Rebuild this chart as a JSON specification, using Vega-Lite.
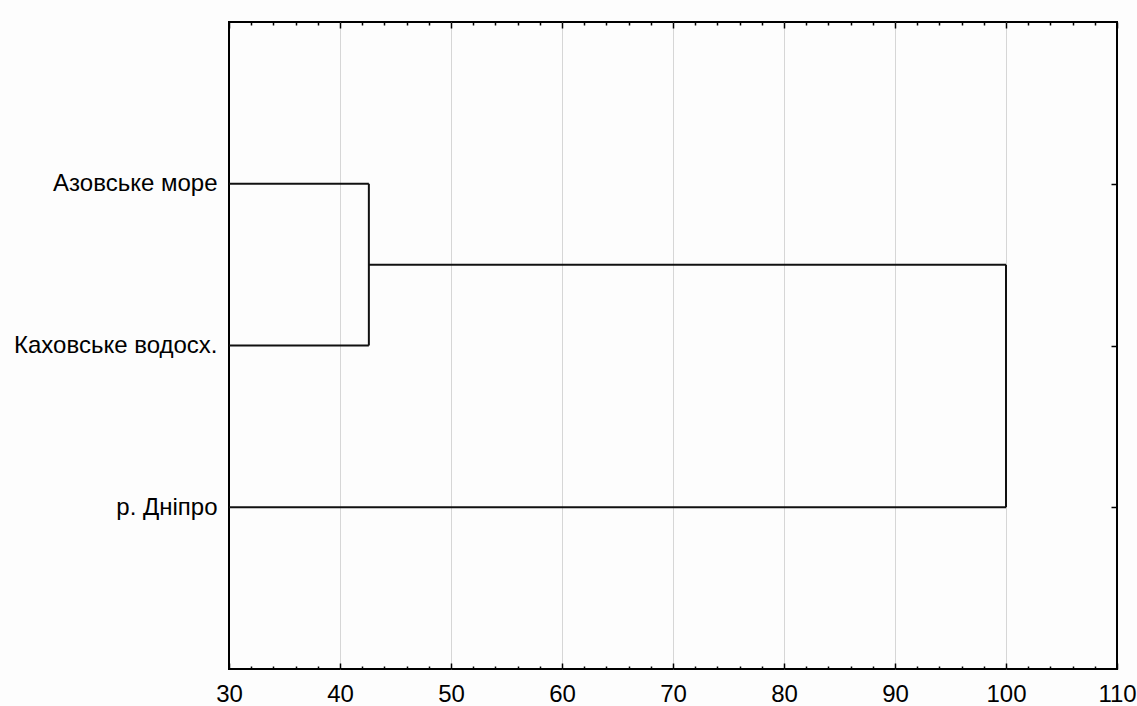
{
  "$schema": "https://vega.github.io/schema/vega-lite/v6.json",
  "autosize": "none",
  "width": 888,
  "height": 647,
  "padding": {"left": 229, "top": 22, "right": 20, "bottom": 37},
  "background": "#fdfdfd",
  "config": {
    "font": "Liberation Sans",
    "view": {"stroke": "#000000", "strokeWidth": 2},
    "axis": {
      "domain": false,
      "labelFont": "Liberation Sans",
      "labelFontSize": 24,
      "labelColor": "#000000",
      "labelLimit": 0,
      "tickColor": "#000000",
      "tickWidth": 1.5,
      "title": null
    }
  },
  "datasets": {
    "horizontal": [
      {"label": "Азовське море", "from": 30, "to": 42.6, "pos": 1},
      {"label": "Каховське водосх.", "from": 30, "to": 42.6, "pos": 2},
      {"label": "merge", "from": 42.6, "to": 100, "pos": 1.5},
      {"label": "р. Дніпро", "from": 30, "to": 100, "pos": 3}
    ],
    "vertical": [
      {"dist": 42.6, "top": 1, "bottom": 2},
      {"dist": 100, "top": 1.5, "bottom": 3}
    ]
  },
  "layer": [
    {
      "data": {"name": "horizontal"},
      "mark": {"type": "rule", "color": "#111111", "strokeWidth": 2},
      "encoding": {
        "x": {
          "field": "from",
          "type": "quantitative",
          "scale": {"domain": [30, 110], "nice": false, "zero": false},
          "axis": {
            "orient": "bottom",
            "values": [30, 32, 34, 36, 38, 40, 42, 44, 46, 48, 50, 52, 54, 56, 58, 60, 62, 64, 66, 68, 70, 72, 74, 76, 78, 80, 82, 84, 86, 88, 90, 92, 94, 96, 98, 100, 102, 104, 106, 108, 110],
            "labelExpr": "datum.value % 10 === 0 ? datum.label : ''",
            "labelOverlap": false,
            "labelFlush": false,
            "labelPadding": 19,
            "tickSize": {"condition": {"test": "datum.value % 10 === 0", "value": -6}, "value": -3},
            "grid": true,
            "gridColor": "#d6d6d6",
            "gridWidth": 1,
            "gridOpacity": {"condition": {"test": "datum.value % 10 === 0 && datum.value > 30 && datum.value < 110", "value": 1}, "value": 0}
          }
        },
        "x2": {"field": "to"},
        "y": {
          "field": "pos",
          "type": "quantitative",
          "scale": {"domain": [0, 4], "reverse": true, "nice": false, "zero": false},
          "axis": {
            "orient": "left",
            "values": [1, 2, 3],
            "labelExpr": "datum.value === 1 ? 'Азовське море' : datum.value === 2 ? 'Каховське водосх.' : 'р. Дніпро'",
            "ticks": false,
            "labelPadding": 12,
            "grid": false
          }
        }
      }
    },
    {
      "data": {"name": "vertical"},
      "mark": {"type": "rule", "color": "#111111", "strokeWidth": 2},
      "encoding": {
        "x": {
          "field": "dist",
          "type": "quantitative",
          "axis": {
            "orient": "top",
            "values": [30, 32, 34, 36, 38, 40, 42, 44, 46, 48, 50, 52, 54, 56, 58, 60, 62, 64, 66, 68, 70, 72, 74, 76, 78, 80, 82, 84, 86, 88, 90, 92, 94, 96, 98, 100, 102, 104, 106, 108, 110],
            "labels": false,
            "grid": false,
            "tickSize": {"condition": {"test": "datum.value % 10 === 0", "value": -6}, "value": -3}
          }
        },
        "y": {
          "field": "top",
          "type": "quantitative",
          "axis": {
            "orient": "right",
            "values": [1, 2, 3],
            "labels": false,
            "grid": false,
            "tickSize": -6
          }
        },
        "y2": {"field": "bottom"}
      }
    }
  ],
  "resolve": {"axis": {"x": "independent", "y": "independent"}}
}
